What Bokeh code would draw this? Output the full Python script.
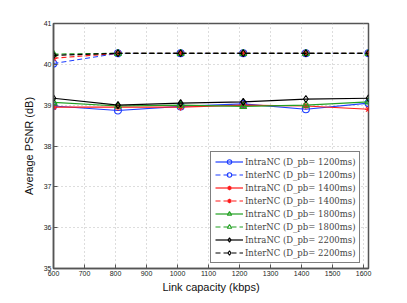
from bokeh.plotting import figure
from bokeh.models import Range1d, Legend, LegendItem, FixedTicker
from bokeh.embed import file_html
from bokeh.resources import INLINE

link_kbps = [600, 808, 1010, 1212, 1414, 1616]

intra_1200 = [38.98, 38.87, 38.97, 39.03, 38.90, 39.05]
inter_1200 = [40.02, 40.27, 40.27, 40.27, 40.27, 40.27]
intra_1400 = [38.95, 38.95, 38.95, 39.00, 38.98, 38.90]
inter_1400 = [40.15, 40.27, 40.27, 40.27, 40.27, 40.27]
intra_1800 = [39.07, 38.98, 39.00, 38.97, 39.00, 39.08]
inter_1800 = [40.25, 40.27, 40.27, 40.27, 40.27, 40.27]
intra_2200 = [39.17, 39.00, 39.05, 39.08, 39.15, 39.17]
inter_2200 = [40.22, 40.27, 40.27, 40.27, 40.27, 40.27]

x_ticks = [600, 700, 800, 900, 1000, 1100, 1200, 1300, 1400, 1500, 1600]
y_ticks = [35, 36, 37, 38, 39, 40, 41]

labels = [
    "IntraNC (D_pb= 1200ms)", "InterNC (D_pb= 1200ms)",
    "IntraNC (D_pb= 1400ms)", "InterNC (D_pb= 1400ms)",
    "IntraNC (D_pb= 1800ms)", "InterNC (D_pb= 1800ms)",
    "IntraNC (D_pb= 2200ms)", "InterNC (D_pb= 2200ms)",
]

p = figure(width=399, height=295, output_backend="svg", toolbar_location=None,
           x_range=Range1d(600, 1616), y_range=Range1d(35, 41),
           min_border_left=53, min_border_right=31, min_border_top=23, min_border_bottom=26)

p.background_fill_color = "white"
p.border_fill_color = "white"
p.outline_line_color = "#555555"
p.outline_line_width = 1.5

for ax in (p.xaxis[0], p.yaxis[0]):
    ax.major_tick_in = 4
    ax.major_tick_out = 0
    ax.minor_tick_in = 0
    ax.minor_tick_out = 0
    ax.axis_line_color = "#555555"
    ax.axis_line_width = 1.5
    ax.major_tick_line_color = "#555555"
    ax.major_label_text_font = "Liberation Sans"
    ax.major_label_text_font_size = "7px"
    ax.major_label_text_color = "#222222"
    ax.axis_label_text_font = "Liberation Sans"
    ax.axis_label_text_font_size = "11px"
    ax.axis_label_text_font_style = "normal"
    ax.axis_label_text_color = "#111111"

p.xaxis.ticker = FixedTicker(ticks=x_ticks)
p.yaxis.ticker = FixedTicker(ticks=y_ticks)
p.xaxis.axis_label = "Link capacity (kbps)"
p.yaxis.axis_label = "Average PSNR (dB)"
p.xaxis.major_label_standoff = 2
p.yaxis.major_label_standoff = 2
p.xaxis.axis_label_standoff = 2
p.yaxis.axis_label_standoff = 6

p.xgrid.grid_line_color = "#bbbbbb"
p.ygrid.grid_line_color = "#bbbbbb"
p.xgrid.grid_line_dash = "1 3"
p.ygrid.grid_line_dash = "1 3"
p.xgrid.ticker = FixedTicker(ticks=x_ticks)
p.ygrid.ticker = FixedTicker(ticks=y_ticks)

blue = "#1f3fff"
red = "#ff1a1a"
green = "#22a022"
black = "#000000"

series = [
    (intra_1200, blue, "circle", "solid"),
    (inter_1200, blue, "circle", "dashed"),
    (intra_1400, red, "asterisk", "solid"),
    (inter_1400, red, "asterisk", "dashed"),
    (intra_1800, green, "triangle", "solid"),
    (inter_1800, green, "triangle", "dashed"),
    (intra_2200, black, "diamond", "solid"),
    (inter_2200, black, "diamond", "dashed"),
]

items = []
for (ys, col, mk, dash), lab in zip(series, labels):
    dash_val = "solid" if dash == "solid" else "5 3"
    r1 = p.line(link_kbps, ys, line_color=col, line_width=1.2, line_dash=dash_val)
    r2 = p.scatter(link_kbps, ys, marker=mk, size=7, line_color=col,
                   fill_color=None, line_width=1.1)
    items.append(LegendItem(label=lab, renderers=[r1, r2]))

legend = Legend(items=items, location=(157, 5))
legend.label_text_font = "DejaVu Serif"
legend.label_text_font_size = "8.5px"
legend.label_text_font_style = "normal"
legend.label_height = 9
legend.glyph_height = 11
legend.glyph_width = 28
legend.spacing = 2
legend.padding = 4
legend.margin = 0
legend.label_standoff = 2
legend.border_line_color = "#000000"
legend.border_line_width = 1
legend.background_fill_alpha = 1
p.add_layout(legend)

open("out.html", "w").write(file_html(p, INLINE))
